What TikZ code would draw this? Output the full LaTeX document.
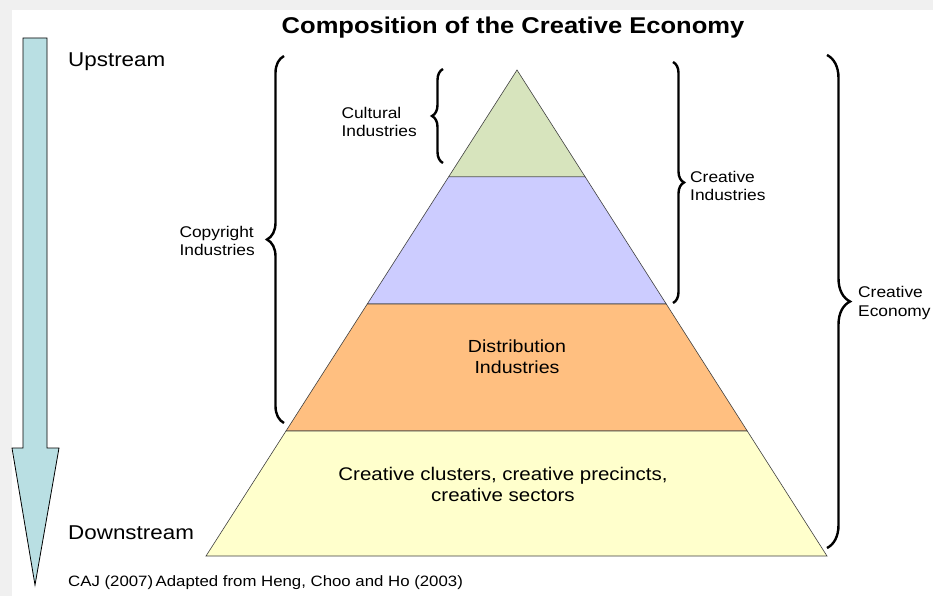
\documentclass[tikz,border=0pt]{standalone}
\usepackage{fontspec}
\setmainfont[FakeStretch=1.12]{Liberation Sans}
\usetikzlibrary{positioning,calc,decorations.pathreplacing}

\definecolor{cultgreen}{HTML}{D7E4BD}
\definecolor{creatblue}{HTML}{CCCCFF}
\definecolor{distorange}{HTML}{FFBF80}
\definecolor{clustyellow}{HTML}{FFFFCC}
\definecolor{flowcyan}{HTML}{B9DFE3}

\begin{document}
\begin{tikzpicture}[
  x=1pt, y=-1pt,
  layer/.style={draw=black!75,line width=0.6pt},
  brc/.style={decorate,decoration={brace,amplitude=#1},line width=2.4pt},
  lbl/.style={inner sep=0pt,align=left,font=\fontsize{15.5}{18.5}\selectfont},
  mid/.style={inner sep=0pt,align=center,font=\fontsize{17.5}{21}\selectfont},
  side/.style={inner sep=0pt,anchor=west,font=\fontsize{20}{24}\selectfont}
]
  \useasboundingbox (0,0) rectangle (933,596);
  \fill[black!6] (0,0) rectangle (933,596);
  \fill[white] (12,10) rectangle (933,596);

  % pyramid
  \coordinate (apex) at (517,70);
  \coordinate (bl) at (206,556);
  \coordinate (br) at (827,556);
  \coordinate (l1) at ($(apex)!0.22!(bl)$);
  \coordinate (r1) at ($(apex)!0.22!(br)$);
  \coordinate (l2) at ($(apex)!0.4815!(bl)$);
  \coordinate (r2) at ($(apex)!0.4815!(br)$);
  \coordinate (l3) at ($(apex)!0.7428!(bl)$);
  \coordinate (r3) at ($(apex)!0.7428!(br)$);
  \draw[layer,fill=cultgreen] (apex) -- (r1) -- (l1) -- cycle;
  \draw[layer,fill=creatblue] (l1) -- (r1) -- (r2) -- (l2) -- cycle;
  \draw[layer,fill=distorange] (l2) -- (r2) -- (r3) -- (l3) -- cycle;
  \draw[layer,fill=clustyellow] (l3) -- (r3) -- (br) -- (bl) -- cycle;

  \node[mid] (dist) at (517,357) {Distribution\\Industries};
  \node[mid,font=\fontsize{18.3}{21}\selectfont] (clust) at (503,484) {Creative clusters, creative precincts,\\creative sectors};

  % up/down flow
  \draw[fill=flowcyan,line width=0.8pt] (23,38) -- (47,38) -- (47,448) -- (59,448)
    -- (35,585) -- (12,448) -- (23,448) -- cycle;
  \node[side] (up) at (68,62) {Upstream};
  \node[side] (down) at (68,533) {Downstream};

  \node[inner sep=0pt,font=\bfseries\fontsize{22.8}{26}\selectfont] (title) at (513,28)
    {Composition of the Creative Economy};
  \node[inner sep=0pt,anchor=west,font=\fontsize{15}{18}\selectfont] (src) at (68,583)
    {CAJ (2007)\,Adapted from Heng, Choo and Ho (2003)};

  % braces
  \draw[brc=11] (443,163) -- (443,69);
  \coordinate (cul-tip) at (432,122);
  \node[lbl,left=15pt of cul-tip] (cul) {Cultural\\Industries};

  \draw[brc=17] (284,423) -- (284,56);
  \coordinate (copy-tip) at (267,241);
  \node[lbl,left=12pt of copy-tip] (copy) {Copyright\\Industries};

  \draw[brc=11] (673,62) -- (673,303);
  \coordinate (ci-tip) at (684,186);
  \node[lbl,right=6pt of ci-tip] (ci) {Creative\\Industries};

  \draw[brc=23] (827,55) -- (827,548);
  \coordinate (ce-tip) at (850,303);
  \node[lbl,right=8pt of ce-tip] (ce) {Creative\\Economy};
\end{tikzpicture}
\end{document}
